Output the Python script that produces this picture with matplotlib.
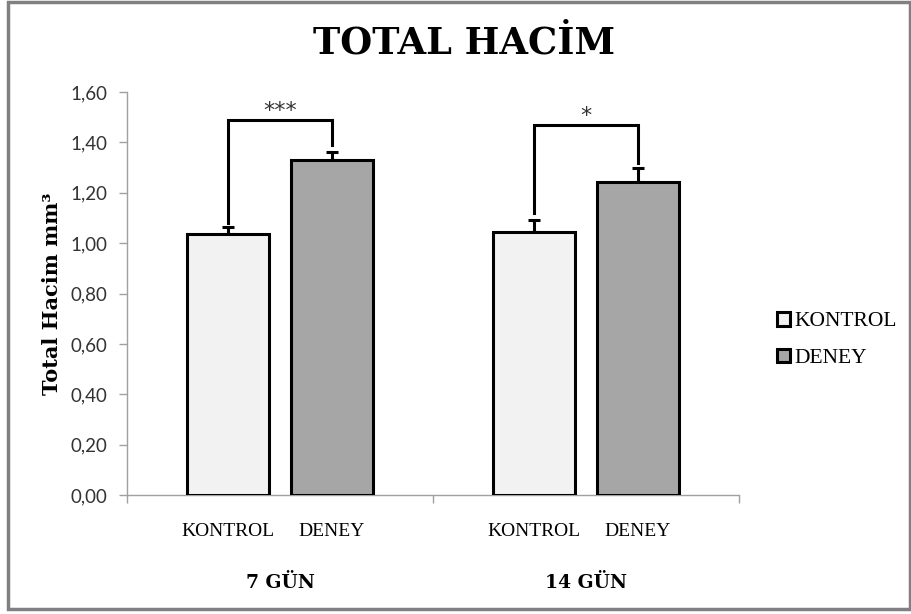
import matplotlib
matplotlib.use("Agg")
import matplotlib.pyplot as plt
from matplotlib.patches import Rectangle

groups = ["7 GÜN", "14 GÜN"]
series = ["KONTROL", "DENEY"]
kontrol = [1.036, 1.044]
deney = [1.330, 1.243]
kontrol_err = [0.028, 0.048]
deney_err = [0.030, 0.056]
bracket_top = [1.49, 1.468]
bracket_left_bottom = [1.08, 1.12]
bracket_right_bottom = [1.39, 1.32]
stars = ["***", "*"]
yticks = [0.0, 0.2, 0.4, 0.6, 0.8, 1.0, 1.2, 1.4, 1.6]

W, H = 912, 614
fig = plt.figure(figsize=(W / 100, H / 100), dpi=100)
ax = fig.add_axes([127 / W, 1 - 495 / H, (739 - 127) / W, (495 - 92) / H])

serif = "DejaVu Serif"
serif2 = "Liberation Serif"
sans = "Lato"

centers = [0.5, 1.5]
off = 0.17
bw = 0.27
colors = ["#f2f2f2", "#a6a6a6"]
for i, c in enumerate(centers):
    for j, (vals, errs) in enumerate([(kontrol, kontrol_err), (deney, deney_err)]):
        x = c - off if j == 0 else c + off
        ax.bar(x, vals[i], width=bw, color=colors[j], edgecolor="black",
               linewidth=2.2, zorder=3, label=series[j] if i == 0 else None)
        ax.errorbar(x, vals[i], yerr=[[0], [errs[i]]], fmt="none", ecolor="black",
                    elinewidth=2.2, capsize=4, capthick=2.2, zorder=2)
    xl, xr = c - off, c + off
    ax.plot([xl, xl, xr, xr],
            [bracket_left_bottom[i], bracket_top[i], bracket_top[i], bracket_right_bottom[i]],
            color="black", lw=2.2, zorder=4, solid_joinstyle="miter")
    ax.text(c, bracket_top[i] + 0.012, stars[i], ha="center", va="baseline",
            fontsize=16, family="DejaVu Sans", color="#333333")
    ax.text(xl, -0.143, series[0], ha="center", va="center", fontsize=14,
            family=serif2)
    ax.text(xr, -0.143, series[1], ha="center", va="center", fontsize=14,
            family=serif2)
    ax.text(c, -0.35, groups[i], ha="center", va="center", fontsize=13.5,
            family=serif, fontweight="bold")

ax.set_xlim(0, 2)
ax.set_ylim(0, 1.6)
ax.set_yticks(yticks)
ax.set_yticklabels([f"{v:.2f}".replace(".", ",") for v in yticks],
                   fontsize=13.5, family=sans, color="#333333")
ax.set_xticks([0, 1, 2])
ax.set_xticklabels([])
ax.tick_params(axis="x", length=6, color="#a0a0a0", width=1, direction="out")
ax.tick_params(axis="y", length=6, color="#a0a0a0", width=1, direction="out", pad=8)
for s in ["top", "right"]:
    ax.spines[s].set_visible(False)
for s in ["left", "bottom"]:
    ax.spines[s].set_color("#a0a0a0")
    ax.spines[s].set_linewidth(1)

ax.set_ylabel("Total Hacim mm³", fontsize=15, family=serif, fontweight="bold", labelpad=6)

fig.text(464 / W, 1 - 43 / H, "TOTAL HACİM", ha="center", va="center",
         fontsize=26.5, family=serif, fontweight="bold")

leg = ax.legend(loc="center left", bbox_to_anchor=(758 / W, 1 - 340 / H),
                bbox_transform=fig.transFigure, frameon=False,
                prop={"family": serif2, "size": 15.5},
                handlelength=0.6, handleheight=0.6, handletextpad=0.2, labelspacing=0.8)

fig.patches.append(Rectangle((8 / W, 1 - 609 / H), (910 - 8) / W, (609 - 2) / H,
                             transform=fig.transFigure, fill=False,
                             edgecolor="#808080", linewidth=2.5))

fig.savefig("out.png", dpi=100)
